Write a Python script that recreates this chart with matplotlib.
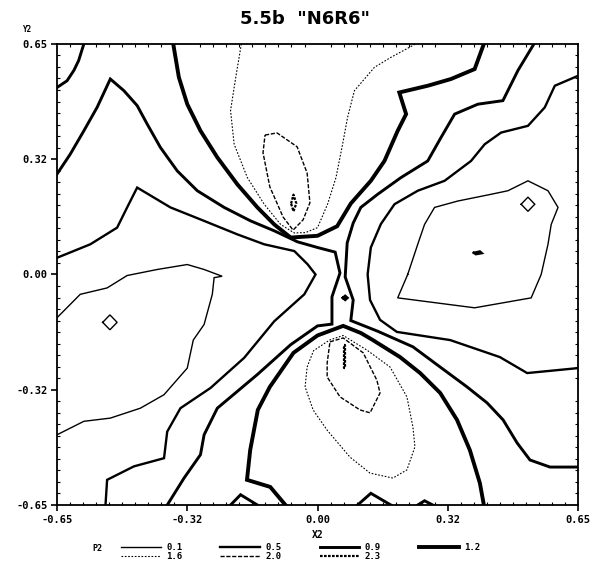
import numpy as np
import matplotlib
matplotlib.use('Agg')
import matplotlib.pyplot as plt
from matplotlib.lines import Line2D

# contour levels and their line styles (legend order, column by column)
levels = ['0.1', '1.6', '0.5', '2.0', '0.9', '2.3', '1.2']

# level 1.2 (thickest solid)
c12_top_x = [-0.36, -0.346, -0.325, -0.292, -0.25, -0.2, -0.15, -0.108, -0.067, 0.0, 0.049, 0.083, 0.133, 0.167, 0.2, 0.221, 0.204, 0.275, 0.333, 0.392, 0.415]
c12_top_y = [0.65, 0.556, 0.48, 0.405, 0.33, 0.254, 0.189, 0.141, 0.104, 0.109, 0.136, 0.2, 0.264, 0.32, 0.405, 0.452, 0.513, 0.532, 0.551, 0.579, 0.65]
c12_bot_x = [-0.08, -0.118, -0.176, -0.168, -0.149, -0.119, -0.06, 0.0, 0.064, 0.108, 0.138, 0.206, 0.256, 0.306, 0.348, 0.38, 0.405, 0.415]
c12_bot_y = [-0.65, -0.599, -0.579, -0.495, -0.382, -0.317, -0.221, -0.172, -0.145, -0.165, -0.185, -0.233, -0.278, -0.334, -0.41, -0.495, -0.588, -0.65]

# level 0.9
c09_left_x = [-0.65, -0.617, -0.583, -0.55, -0.517, -0.483, -0.45, -0.425, -0.392, -0.35, -0.3, -0.233, -0.167, -0.108, -0.05, 0.0, 0.044, 0.056, 0.036, 0.036, 0.0, -0.067, -0.15, -0.25, -0.283, -0.292, -0.333, -0.375]
c09_left_y = [0.283, 0.339, 0.405, 0.471, 0.551, 0.518, 0.476, 0.424, 0.358, 0.292, 0.236, 0.189, 0.151, 0.123, 0.092, 0.076, 0.063, 0.004, -0.063, -0.14, -0.145, -0.198, -0.282, -0.377, -0.452, -0.508, -0.574, -0.65]
c09_right_x = [0.54, 0.5, 0.4625, 0.4, 0.342, 0.308, 0.275, 0.208, 0.15, 0.108, 0.089, 0.074, 0.069, 0.089, 0.083, 0.15, 0.238, 0.306, 0.373, 0.423, 0.463, 0.498, 0.53, 0.58, 0.65]
c09_right_y = [0.65, 0.575, 0.49, 0.48, 0.452, 0.386, 0.32, 0.273, 0.226, 0.189, 0.145, 0.089, -0.007, -0.072, -0.13, -0.16, -0.204, -0.261, -0.317, -0.362, -0.41, -0.475, -0.523, -0.543, -0.543]
c09_corner_x = [-0.65, -0.625, -0.608, -0.596, -0.583]
c09_corner_y = [0.527, 0.546, 0.575, 0.603, 0.65]
bump1_x = [-0.217, -0.192, -0.15]
bump1_y = [-0.65, -0.621, -0.65]
bump2_x = [0.1, 0.133, 0.183]
bump2_y = [-0.65, -0.617, -0.65]
bump3_x = [0.25, 0.267, 0.2875]
bump3_y = [-0.65, -0.638, -0.65]

# level 0.5
c05_left_x = [-0.65, -0.567, -0.5, -0.475, -0.45, -0.367, -0.283, -0.2, -0.133, -0.058, -0.025, -0.005, -0.033, -0.108, -0.183, -0.267, -0.342, -0.375, -0.383, -0.458, -0.525, -0.529]
c05_left_y = [0.047, 0.085, 0.132, 0.189, 0.245, 0.189, 0.151, 0.113, 0.085, 0.066, 0.029, 0.0, -0.056, -0.132, -0.235, -0.32, -0.377, -0.443, -0.518, -0.541, -0.579, -0.65]
c05_right_x = [0.65, 0.592, 0.567, 0.525, 0.458, 0.417, 0.383, 0.317, 0.25, 0.192, 0.158, 0.133, 0.125, 0.131, 0.156, 0.198, 0.331, 0.455, 0.523, 0.65]
c05_right_y = [0.56, 0.532, 0.471, 0.419, 0.4, 0.367, 0.32, 0.264, 0.236, 0.198, 0.142, 0.076, 0.0, -0.072, -0.128, -0.162, -0.185, -0.233, -0.278, -0.264]

# level 0.1 (thin solid)
c01_left_x = [-0.65, -0.592, -0.525, -0.475, -0.4, -0.325, -0.283, -0.25, -0.238, -0.258, -0.2625, -0.283, -0.31, -0.325, -0.383, -0.442, -0.517, -0.583, -0.65]
c01_left_y = [-0.122, -0.056, -0.038, -0.003, 0.014, 0.028, 0.014, 0.0, -0.005, -0.009, -0.056, -0.141, -0.185, -0.264, -0.339, -0.377, -0.405, -0.414, -0.452]
c01_right_x = [0.225, 0.25, 0.267, 0.292, 0.35, 0.433, 0.475, 0.525, 0.575, 0.6, 0.583, 0.575, 0.558, 0.533, 0.392, 0.2, 0.225]
c01_right_y = [0.0, 0.085, 0.141, 0.189, 0.207, 0.226, 0.236, 0.264, 0.236, 0.189, 0.141, 0.085, 0.0, -0.066, -0.094, -0.066, 0.0]
dia_left_x = [-0.536, -0.518, -0.5, -0.518, -0.536]
dia_left_y = [-0.135, -0.114, -0.135, -0.156, -0.135]
dia_right_x = [0.508, 0.525, 0.542, 0.525, 0.508]
dia_right_y = [0.198, 0.218, 0.198, 0.178, 0.198]
dash_right_x = [0.39, 0.405, 0.41, 0.395, 0.39]
dash_right_y = [0.061, 0.065, 0.06, 0.057, 0.061]
neck_dot_x = [0.064, 0.069, 0.074, 0.069, 0.064]
neck_dot_y = [-0.066, -0.061, -0.066, -0.071, -0.066]

# level 1.6 (thin dotted)
c16_top_x = [-0.19, -0.204, -0.217, -0.208, -0.175, -0.133, -0.092, -0.058, -0.03, 0.0, 0.025, 0.046, 0.0625, 0.075, 0.092, 0.142, 0.183, 0.245]
c16_top_y = [0.65, 0.556, 0.462, 0.367, 0.273, 0.198, 0.141, 0.117, 0.118, 0.132, 0.198, 0.273, 0.367, 0.443, 0.518, 0.584, 0.612, 0.65]
c16_bot_x = [-0.026, -0.01, 0.03, 0.064, 0.123, 0.181, 0.223, 0.238, 0.243, 0.223, 0.188, 0.131, 0.081, 0.024, -0.011, -0.031, -0.026]
c16_bot_y = [-0.261, -0.215, -0.185, -0.172, -0.213, -0.261, -0.345, -0.43, -0.486, -0.551, -0.574, -0.56, -0.515, -0.439, -0.382, -0.317, -0.261]

# level 2.0
c20_top_x = [-0.131, -0.101, -0.051, -0.026, -0.019, -0.036, -0.061, -0.086, -0.119, -0.136, -0.131]
c20_top_y = [0.393, 0.399, 0.36, 0.286, 0.202, 0.154, 0.125, 0.162, 0.247, 0.343, 0.393]
c20_bot_x = [0.031, 0.064, 0.114, 0.148, 0.156, 0.131, 0.106, 0.056, 0.024, 0.024, 0.031]
c20_bot_y = [-0.19, -0.179, -0.221, -0.298, -0.334, -0.39, -0.382, -0.345, -0.289, -0.25, -0.19]

# level 2.3
c23_top_x = [-0.066, -0.06, -0.053, -0.06, -0.066]
c23_top_y = [0.2, 0.225, 0.2, 0.178, 0.2]
c23_bot_x = [0.065, 0.068, 0.068, 0.065, 0.065]
c23_bot_y = [-0.198, -0.198, -0.265, -0.265, -0.198]

styles = {
    '0.1': dict(lw=1.0, ls='-'),
    '0.5': dict(lw=1.7, ls='-'),
    '0.9': dict(lw=2.1, ls='-'),
    '1.2': dict(lw=2.8, ls='-'),
    '1.6': dict(lw=0.8, ls=(0, (1.5, 1.5))),
    '2.0': dict(lw=1.0, ls=(0, (3, 1.2))),
    '2.3': dict(lw=1.6, ls=(0, (1.2, 0.6))),
}

curves = [
    ('1.2', c12_top_x, c12_top_y), ('1.2', c12_bot_x, c12_bot_y),
    ('0.9', c09_left_x, c09_left_y), ('0.9', c09_right_x, c09_right_y),
    ('0.9', c09_corner_x, c09_corner_y),
    ('0.9', bump1_x, bump1_y), ('0.9', bump2_x, bump2_y), ('0.9', bump3_x, bump3_y),
    ('0.5', c05_left_x, c05_left_y), ('0.5', c05_right_x, c05_right_y),
    ('0.1', c01_left_x, c01_left_y), ('0.1', c01_right_x, c01_right_y),
    ('0.1', dia_left_x, dia_left_y), ('0.1', dia_right_x, dia_right_y),
    ('0.5', dash_right_x, dash_right_y), ('0.9', neck_dot_x, neck_dot_y),
    ('1.6', c16_top_x, c16_top_y), ('1.6', c16_bot_x, c16_bot_y),
    ('2.0', c20_top_x, c20_top_y), ('2.0', c20_bot_x, c20_bot_y),
    ('2.3', c23_top_x, c23_top_y), ('2.3', c23_bot_x, c23_bot_y),
]

fig = plt.figure(figsize=(6.08, 5.70), dpi=100)
ax = fig.add_axes([0.09375, 0.114, 0.857, 0.809])

for lvl, xs, ys in curves:
    ax.plot(xs, ys, color='black', solid_joinstyle='miter', **styles[lvl])

ax.set_xlim(-0.65, 0.65)
ax.set_ylim(-0.65, 0.65)

major = [-0.65, -0.325, 0.0, 0.325, 0.65]
major_labels = ['-0.65', '-0.32', '0.00', '0.32', '0.65']
ax.set_xticks(major)
ax.set_xticklabels(major_labels)
ax.set_yticks(major)
ax.set_yticklabels(major_labels)
ax.set_xticks(np.linspace(-0.65, 0.65, 41), minor=True)
ax.set_yticks(np.linspace(-0.65, 0.65, 41), minor=True)
ax.tick_params(which='major', direction='out', length=4, width=1.2, pad=3)
ax.tick_params(which='minor', direction='in', length=2.5, width=0.8,
               top=True, right=True)
for lab in ax.get_xticklabels() + ax.get_yticklabels():
    lab.set_fontfamily('DejaVu Sans Mono')
    lab.set_fontweight('bold')
    lab.set_fontsize(7.5)
for sp in ax.spines.values():
    sp.set_linewidth(1.3)

ax.set_xlabel('X2', fontfamily='DejaVu Sans Mono', fontweight='bold',
              fontsize=7, labelpad=4)
fig.text(0.045, 0.948, 'Y2', fontfamily='DejaVu Sans Mono', fontweight='bold',
         fontsize=5.5, ha='center', va='center')

fig.text(0.502, 0.967, '5.5b  "N6R6"', fontfamily='DejaVu Sans',
         fontweight='bold', fontsize=13, ha='center', va='center')

handles = [Line2D([], [], color='black', **styles[l]) for l in levels]
fig.legend(handles, levels, loc='center left', bbox_to_anchor=(0.192, 0.032),
           ncol=4, frameon=False, handlelength=4.4, handletextpad=0.6,
           columnspacing=4.2, labelspacing=0.0, borderpad=0,
           prop=dict(family='DejaVu Sans Mono', weight='bold', size=6.5))
fig.text(0.16, 0.037, 'P2', fontfamily='DejaVu Sans Mono', fontweight='bold',
         fontsize=6, ha='center', va='center')

plt.savefig('out.png', dpi=100, facecolor='white')
